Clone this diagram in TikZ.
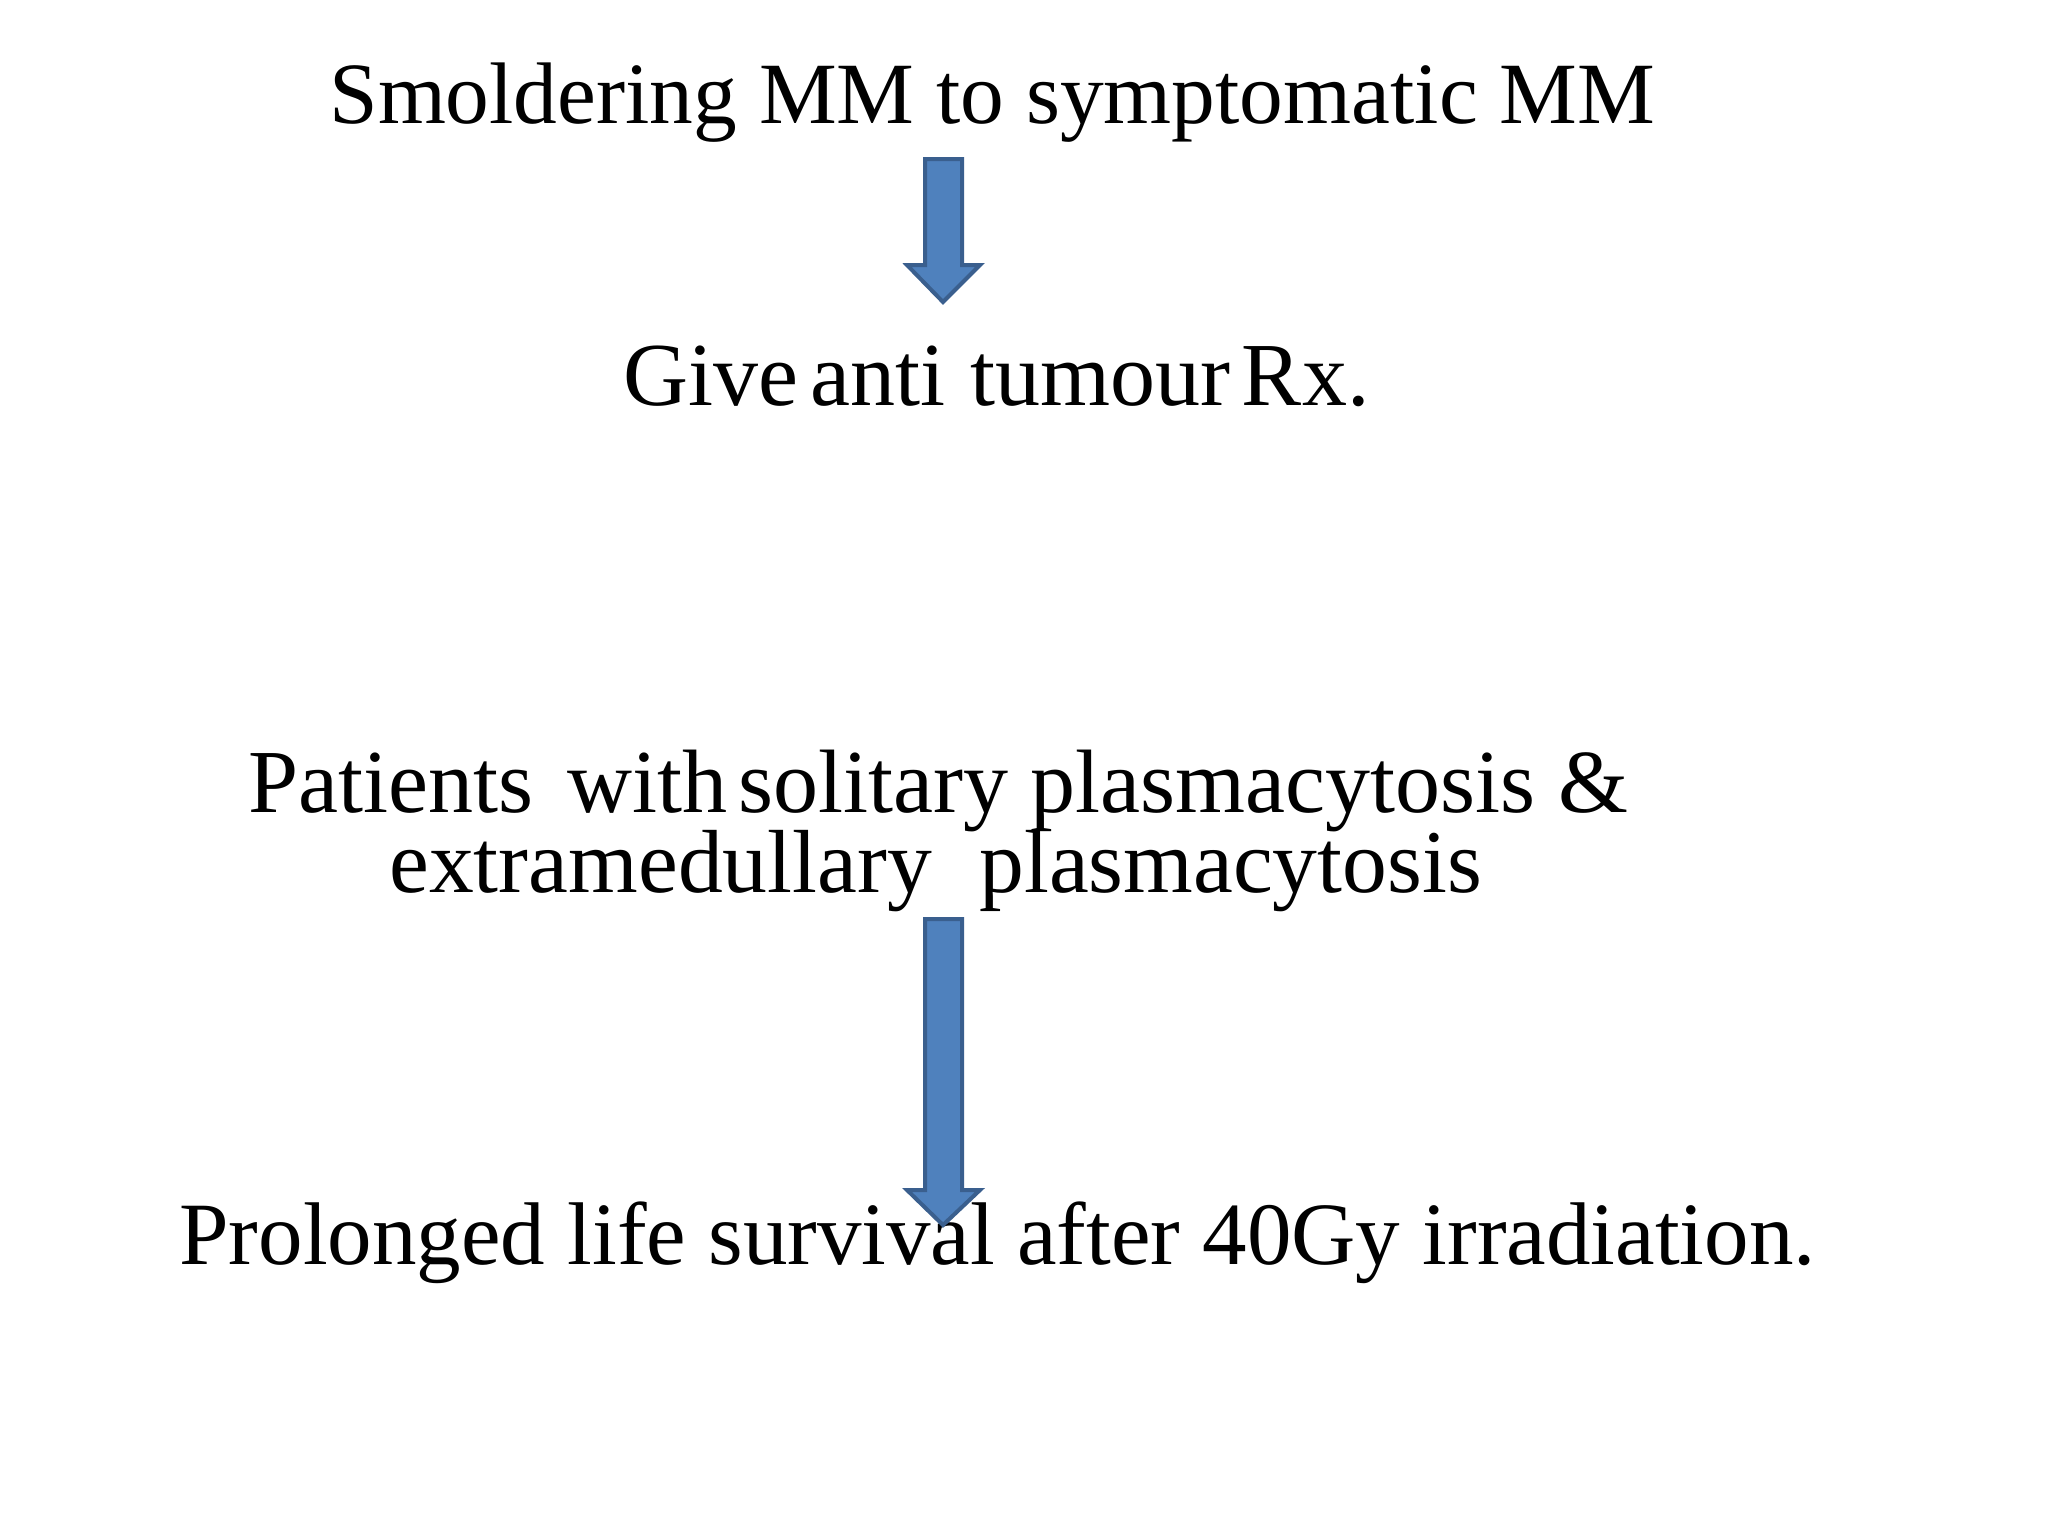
\documentclass[tikz,border=0pt]{standalone}
\usepackage{fontspec}
\setmainfont{Liberation Serif}
\definecolor{arrowfill}{HTML}{4F81BD}
\definecolor{arrowline}{HTML}{3A5F8E}
\begin{document}
\begin{tikzpicture}[x=0.5pt,y=-0.5pt,
  txt/.style={anchor=base west, inner sep=0pt, font=\fontsize{44}{50}\selectfont},
  blockarrow/.style={fill=arrowfill, draw=arrowline, line width=2pt, line join=miter}]
\useasboundingbox[fill=white] (0,0) rectangle (2048,1536);
\node[txt, font=\fontsize{43.7}{50}\selectfont] (t1) at (329,124) {Smoldering MM to symptomatic MM};
\node[txt, font=\fontsize{45}{50}\selectfont] (t2) at (623,405) {Give\hspace{-0.12em} anti\hspace{0.03em} tumour\hspace{-0.12em} Rx.};
\node[txt, font=\fontsize{45}{50}\selectfont] (t3) at (248,812) {Patients\hspace{0.13em} with\hspace{-0.13em} solitary plasmacytosis \&};
\node[txt, font=\fontsize{44.8}{50}\selectfont] (t4) at (389,892) {extramedullary\hspace{0.28em} plasmacytosis};
\node[txt, font=\fontsize{44.5}{50}\selectfont] (t5) at (179,1264) {Prolonged life survival after 40Gy irradiation.};
\draw[blockarrow] (925,159) -- (962,159) -- (962,265) -- (980,265) -- (943,302) -- (907,265) -- (925,265) -- cycle;
\draw[blockarrow] (925,919) -- (962,919) -- (962,1190) -- (980,1190) -- (943,1225) -- (907,1190) -- (925,1190) -- cycle;
\end{tikzpicture}
\end{document}
